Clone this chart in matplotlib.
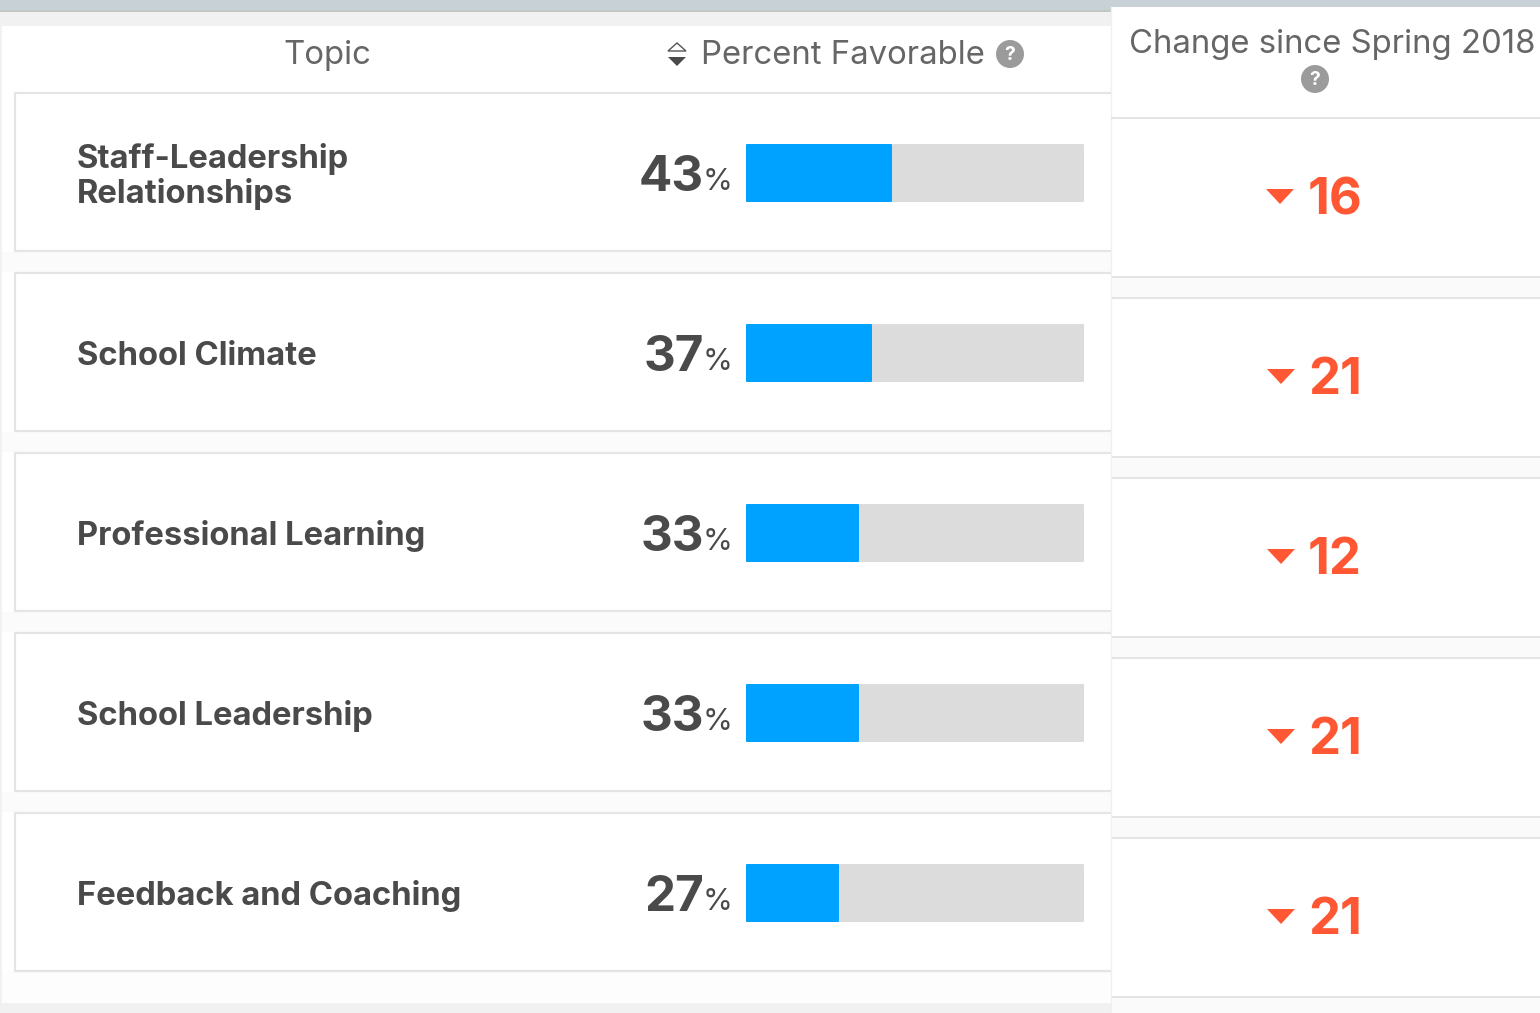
import matplotlib
matplotlib.use('Agg')
import matplotlib.pyplot as plt
from matplotlib.patches import Rectangle, Circle, Polygon

plt.rcParams['font.family'] = ['Inter', 'DejaVu Sans']

# data
topics = ['Staff-Leadership\nRelationships', 'School Climate', 'Professional Learning',
          'School Leadership', 'Feedback and Coaching']
favorable = [43, 37, 33, 33, 27]
changes = [16, 21, 12, 21, 21]
headers = ['Topic', 'Percent Favorable', 'Change since Spring 2018']

W, H = 1540, 1013
DARK = '#4a4a4a'
HEAD = '#666666'
BLUE = '#00a2ff'
TRACK = '#dcdcdc'
RED = '#ff5733'
LINE = '#e4e4e4'
ICON = '#9b9b9b'

fig = plt.figure(figsize=(W / 100, H / 100), dpi=100)
fig.patch.set_facecolor('#f1f1f1')

# background axes, in pixels of the page
ax = fig.add_axes([0, 0, 1, 1])
ax.set_xlim(0, W)
ax.set_ylim(H, 0)
ax.axis('off')


def rect(x0, y0, x1, y1, fc, ec='none', lw=0, z=1):
    ax.add_patch(Rectangle((x0, y0), x1 - x0, y1 - y0, fc=fc, ec=ec, lw=lw, zorder=z))


def help_icon(x, y):
    ax.add_patch(Circle((x, y), 14, fc=ICON, ec='none', zorder=3))
    ax.text(x, y + 0.5, '?', color='white', fontsize=14, fontweight='bold',
            ha='center', va='center', zorder=4)


# page chrome
rect(0, 0, W, 10, '#c8d1d5')
rect(0, 10, 1111, 12, '#c4c6c2')
rect(2, 26, 1111, 1003, 'white')
rect(1111, 7, W, H, 'white', z=2)
ax.plot([1111, 1111], [7, H], color='#f0f0f0', lw=1, zorder=2)

row_tops = [93 + 180 * i for i in range(len(topics))]

# left cards
for top in row_tops:
    rect(15, top, 1125, top + 158, 'white', ec=LINE, lw=1.6, z=1.5)
    rect(2, top + 159, 1111, top + 179, '#fbfbfb', z=1.2)
rect(2, 973, 1111, 1003, '#fdfdfd', z=1.2)

# right cards
rect(1111, 117, W, 119, LINE, z=3)
for top in row_tops:
    rect(1112, top + 183, W, top + 185, LINE, z=3)
    rect(1112, top + 185, W, top + 205, '#fafafa', z=3)
    rect(1112, top + 204, W, top + 206, LINE, z=3)
rect(1112, 998, W, H, '#fafafa', z=3)

# headers
ax.text(327, 55, headers[0], color=HEAD, fontsize=23.7, ha='center', va='center')
ax.text(701, 55, headers[1], color=HEAD, fontsize=23.7, ha='left', va='center')
ax.text(1129, 44, headers[2], color=HEAD, fontsize=23.7, ha='left', va='center', zorder=4)
help_icon(1010, 54)
help_icon(1315, 79)
ax.add_patch(Polygon([(668, 51), (686, 51), (677, 43)], fc='white', ec='#555555', lw=1))
ax.add_patch(Polygon([(668, 57), (686, 57), (677, 66)], fc='#4a4a4a', ec='none'))

# rows
for i, top in enumerate(row_tops):
    mid = top + 80
    ax.text(77, mid + 3, topics[i], color=DARK, fontsize=23.6, fontweight='bold',
            ha='left', va='center', linespacing=1.12)
    ax.text(733, mid + 17, '%', color=DARK, fontsize=22, ha='right', va='baseline')
    ax.text(704, mid + 18, str(favorable[i]), color=DARK, fontsize=35.5, fontweight='bold',
            ha='right', va='baseline')
    # down triangle and the change value
    tx = 1280 if changes[i] == 16 else 1281
    ty = top + 103
    ax.add_patch(Polygon([(tx - 14, ty - 7), (tx + 14, ty - 7), (tx, ty + 8)],
                         fc=RED, ec='none', zorder=4))
    ax.text(1335, top + 121, str(changes[i]), color=RED, fontsize=36.5, fontweight='bold',
            ha='center', va='baseline', zorder=4)

# bars on their own 0-100 scale, y stays in page pixels
bar_ax = fig.add_axes([747 / W, 0, (1083 - 747) / W, 1])
bar_ax.set_xlim(0, 100)
bar_ax.set_ylim(H, 0)
bar_ax.axis('off')
bar_ax.patch.set_alpha(0)
y_pos = [top + 80 for top in row_tops]
# the round joined edge gives the small corner radius of the bars
bar_ax.barh(y_pos, [100] * len(favorable), height=56, color=TRACK,
            edgecolor=TRACK, linewidth=1.44, joinstyle='round', clip_on=False)
bar_ax.barh(y_pos, favorable, height=56, color=BLUE,
            edgecolor=BLUE, linewidth=1.44, joinstyle='round', clip_on=False)

fig.savefig('out.png', dpi=100)
